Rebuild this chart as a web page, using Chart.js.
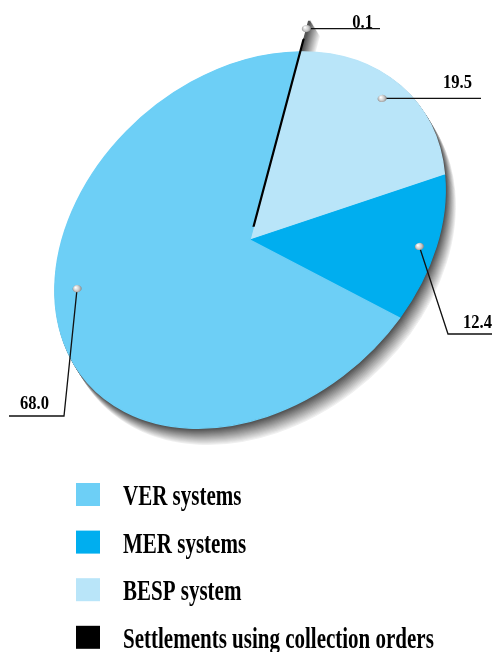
<!DOCTYPE html>
<html lang="en">
<head>
<meta charset="UTF-8">
<title>Settlements by system</title>
<script src="https://cdn.jsdelivr.net/npm/chart.js"></script>
<style>
  html, body { margin: 0; padding: 0; background: #fff; }
  canvas { display: block; }
</style>
</head>
<body>
<canvas id="pieCanvas" width="492" height="652"></canvas>
<script>
  // shares in %, in legend order
  const categories = ["VER systems", "MER systems", "BESP system", "Settlements using collection orders"];
  const shares = [68.0, 12.4, 19.5, 0.1];
  const colors = ["#6dcff6", "#00aeef", "#b9e5f9", "#000000"];
  // slices run clockwise starting with BESP, the thin black one last
  const drawOrder = [2, 1, 0, 3];
  const sliceOffsets = [0, 0, 0, 20];
  const sliceBorders = [1, 1, 1, 1.8];

  // tilted look: circle squashed to an ellipse and turned
  const TILT = -41.1;          // degrees
  const SX = 216 / 150, SY = 164 / 150;
  const RADIUS = 150;

  // callouts, legend order: where the bead sits on its slice + leader line
  const callouts = [
    { at: 0.566, r: 0.886, path: [[64, 416], [9, 416]], tx: 20, ty: 409, align: "left" },
    { at: 0.5, r: 0.91, path: [[448, 334], [492, 334]], tx: 492, ty: 328, align: "right" },
    { at: 0.48, r: 0.9, path: [[481, null]], tx: 472, ty: 88, align: "right" },
    { at: 0.5, r: 1.09, path: [[380, null]], tx: 373, ty: 28, align: "right" }
  ];

  const legendBox = { x: 76, y: 483, size: 24, step: 47.6, textX: 123 };

  function tiltMatrix(cx, cy) {
    return new DOMMatrix().translate(cx, cy).rotate(TILT).scaleSelf(SX, SY).translate(-cx, -cy);
  }

  function applyTilt(ctx, cx, cy) {
    ctx.translate(cx, cy);
    ctx.rotate(TILT * Math.PI / 180);
    ctx.scale(SX, SY);
    ctx.translate(-cx, -cy);
  }

  function wedgePath(ctx, el) {
    const off = el.options.offset || 0;
    const mid = (el.startAngle + el.endAngle) / 2;
    const x = el.x + Math.cos(mid) * off / 4;
    const y = el.y + Math.sin(mid) * off / 4;
    ctx.moveTo(x, y);
    ctx.arc(x, y, el.outerRadius + off, el.startAngle, el.endAngle);
    ctx.closePath();
  }

  function drawBead(ctx, x, y) {
    const g = ctx.createRadialGradient(x - 1.5, y - 1.2, 0.3, x, y, 5);
    g.addColorStop(0, "#ffffff");
    g.addColorStop(0.55, "#c8c8c8");
    g.addColorStop(1, "#7a7a7a");
    ctx.beginPath();
    ctx.ellipse(x, y, 4.6, 3.6, -0.15, 0, Math.PI * 2);
    ctx.fillStyle = g;
    ctx.fill();
  }

  function drawText(ctx, text, x, y, align, font, squeeze) {
    ctx.save();
    ctx.translate(x, y);
    ctx.scale(squeeze, 1);
    ctx.font = font;
    ctx.textAlign = align;
    ctx.textBaseline = "alphabetic";
    ctx.fillStyle = "#000";
    ctx.fillText(text, 0, 0);
    ctx.restore();
  }

  const tiltPlugin = {
    id: "tilt",
    afterDatasetUpdate(chart) {
      // black sliver starts a little away from the centre
      const els = chart.getDatasetMeta(0).data;
      els[els.length - 1].innerRadius = 0.5;
    },
    beforeDatasetsDraw(chart) {
      const ctx = chart.ctx;
      const els = chart.getDatasetMeta(0).data;
      const cx = els[0].x, cy = els[0].y;

      // stacked grey shadow below and right of the disc
      const layers = 16;
      for (let k = layers; k >= 1; k--) {
        const t = (k - 1) / (layers - 1);
        const v = Math.round(85 + 155 * t);
        ctx.save();
        ctx.translate(k * 10 / layers, k * 16 / layers);
        applyTilt(ctx, cx, cy);
        ctx.fillStyle = `rgb(${v},${v},${v})`;
        ctx.strokeStyle = ctx.fillStyle;
        ctx.lineWidth = 1;
        els.forEach(el => {
          ctx.beginPath();
          wedgePath(ctx, el);
          ctx.fill();
          ctx.stroke();
        });
        ctx.restore();
      }

      ctx.save();
      applyTilt(ctx, cx, cy);
    },
    afterDatasetsDraw(chart) {
      const ctx = chart.ctx;
      ctx.restore();

      const els = chart.getDatasetMeta(0).data;
      const cx = els[0].x, cy = els[0].y;
      const m = tiltMatrix(cx, cy);

      drawOrder.forEach((catIdx, i) => {
        const el = els[i];
        const c = callouts[catIdx];
        const off = el.options.offset || 0;
        const mid = (el.startAngle + el.endAngle) / 2;
        const a = el.startAngle + (el.endAngle - el.startAngle) * c.at;
        const ox = cx + Math.cos(mid) * off / 4;
        const oy = cy + Math.sin(mid) * off / 4;
        const p = m.transformPoint(new DOMPoint(
          ox + Math.cos(a) * c.r * el.outerRadius,
          oy + Math.sin(a) * c.r * el.outerRadius));

        ctx.save();
        ctx.beginPath();
        ctx.moveTo(p.x, p.y);
        c.path.forEach(([x, y]) => ctx.lineTo(x, y === null ? p.y : y));
        ctx.strokeStyle = "#111";
        ctx.lineWidth = 1.3;
        ctx.stroke();
        ctx.restore();
        drawBead(ctx, p.x, p.y);

        drawText(ctx, shares[catIdx].toFixed(1), c.tx, c.ty, c.align,
          "bold 18px 'Liberation Serif', 'DejaVu Serif', serif", 0.92);
      });

      // legend
      categories.forEach((name, i) => {
        const y = legendBox.y + i * legendBox.step;
        ctx.fillStyle = colors[i];
        ctx.fillRect(legendBox.x, y, legendBox.size, legendBox.size - 1);
        drawText(ctx, name, legendBox.textX, y + 22, "left",
          "bold 30px 'Liberation Serif', 'DejaVu Serif', serif", 0.70);
      });
    }
  };

  new Chart(document.getElementById("pieCanvas"), {
    type: "pie",
    data: {
      labels: drawOrder.map(i => categories[i]),
      datasets: [{
        data: drawOrder.map(i => shares[i]),
        backgroundColor: drawOrder.map(i => colors[i]),
        borderColor: drawOrder.map(i => colors[i]),
        borderWidth: sliceBorders,
        offset: sliceOffsets,
        clip: false
      }]
    },
    options: {
      responsive: false,
      animation: false,
      devicePixelRatio: 1,
      rotation: 48.6,
      radius: RADIUS,
      layout: { padding: { left: 100, right: 92, top: 90, bottom: 262 } },
      plugins: {
        legend: { display: false },
        tooltip: { enabled: false }
      },
      events: []
    },
    plugins: [tiltPlugin]
  });
</script>
</body>
</html>
